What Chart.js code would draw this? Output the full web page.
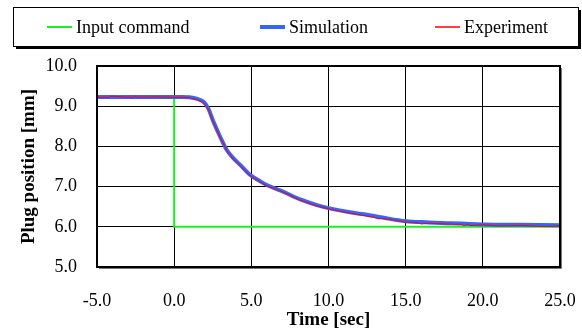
<!DOCTYPE html>
<html>
<head>
<meta charset="utf-8">
<script src="https://cdn.jsdelivr.net/npm/chart.js@4/dist/chart.umd.min.js"></script>
<style>
  html, body { margin: 0; padding: 0; background: #fff; }
  #wrap { width: 582px; height: 328px; position: relative; }
</style>
</head>
<body>
<div id="wrap"><canvas id="plug" width="582" height="328"></canvas></div>
<script>
// step command
const cmdTime = [-5, 0, 0, 25];
const cmdPos = [9.22, 9.22, 6.0, 6.0];

// model response
const simTime = [-5, -2.5, 0, 0.5, 1.0, 1.5, 1.9, 2.2, 2.55, 2.98, 3.41, 3.8, 4.28, 4.93, 5.5, 6.0, 7.09, 8.17, 9.25, 10.3, 11.4, 12.3, 13.5, 15.0, 16.5, 17.7, 20.0, 22.5, 25.0];
const simPos = [9.23, 9.23, 9.23, 9.23, 9.22, 9.18, 9.11, 8.95, 8.61, 8.24, 7.91, 7.72, 7.54, 7.29, 7.15, 7.04, 6.87, 6.68, 6.54, 6.44, 6.36, 6.31, 6.23, 6.14, 6.11, 6.09, 6.06, 6.05, 6.04];

// measured response
const expTime = [-5, -4.2, -4.1, -3.0, -2.6, -2.5, -2.4, -1.2, 0, 0.5, 1.0, 1.5, 1.9, 2.2, 2.55, 2.98, 3.41, 3.8, 4.28, 4.93, 5.5, 6.0, 7.09, 8.17, 9.25, 10.3, 11.4, 12.3, 13.0, 13.2, 13.5, 15.0, 15.8, 16.0, 16.5, 17.7, 18.6, 18.8, 19.0, 19.2, 20.0, 21.0, 22.5, 24.0, 25.0];
const expPos = [9.22, 9.22, 9.25, 9.22, 9.22, 9.25, 9.22, 9.23, 9.22, 9.22, 9.21, 9.16, 9.09, 8.93, 8.59, 8.22, 7.90, 7.70, 7.52, 7.27, 7.13, 7.02, 6.86, 6.66, 6.52, 6.42, 6.34, 6.28, 6.23, 6.20, 6.21, 6.12, 6.10, 6.07, 6.09, 6.07, 6.06, 6.03, 6.06, 6.03, 6.05, 6.02, 6.03, 6.01, 6.02];

const xTicks = [-5, 0, 5, 10, 15, 20, 25];

const pts = (xs, ys) => xs.map((x, i) => ({ x: x, y: ys[i] }));

const serif = '"Liberation Serif", "Times New Roman", serif';
const colCmd = '#1ef01e';
const colSim = '#3366ff';
const colExp = '#ff0000';

// legend box across the top, with a drop shadow
const topLegend = {
  id: 'topLegend',
  afterDraw(chart) {
    const ctx = chart.ctx;
    const bx = 13, by = 7, bw = 565, bh = 39;
    ctx.save();
    ctx.fillStyle = '#000';
    ctx.fillRect(bx + 3, by + 3, bw, bh);
    ctx.fillStyle = '#fff';
    ctx.fillRect(bx, by, bw, bh);
    ctx.strokeStyle = '#000';
    ctx.lineWidth = 1;
    ctx.strokeRect(bx + 0.5, by + 0.5, bw, bh);
    const ds = chart.data.datasets;
    const items = [
      { x: 47, text: ds[0].label, color: colCmd, w: 2 },
      { x: 260, text: ds[1].label, color: colSim, w: 4 },
      { x: 435, text: ds[2].label, color: colExp, w: 1.5 }
    ];
    const cy = 27;
    ctx.font = '18px ' + serif;
    ctx.textBaseline = 'middle';
    items.forEach(it => {
      ctx.fillStyle = it.color;
      ctx.fillRect(it.x, cy - it.w / 2, 25, it.w);
      ctx.fillStyle = '#000';
      ctx.fillText(it.text, it.x + 29, cy + 1);
    });
    ctx.restore();
  }
};

// thick frame around the plot area
const frame = {
  id: 'frame',
  afterDatasetsDraw(chart) {
    const { left, top, right, bottom } = chart.chartArea;
    const ctx = chart.ctx;
    ctx.save();
    ctx.strokeStyle = '#000';
    ctx.lineWidth = 2;
    ctx.strokeRect(left, top, right - left, bottom - top);
    ctx.strokeStyle = '#777';
    ctx.lineWidth = 1;
    ctx.beginPath();
    ctx.moveTo(left + 2, bottom + 1.5);
    ctx.lineTo(right + 1.5, bottom + 1.5);
    ctx.lineTo(right + 1.5, top + 2);
    ctx.stroke();
    ctx.restore();
  }
};

new Chart(document.getElementById('plug'), {
  type: 'line',
  data: {
    datasets: [
      {
        label: 'Input command',
        data: pts(cmdTime, cmdPos),
        borderColor: colCmd,
        borderWidth: 2,
        pointRadius: 0,
        tension: 0,
        order: 2
      },
      {
        label: 'Simulation',
        data: pts(simTime, simPos),
        borderColor: colSim,
        borderWidth: 4,
        pointRadius: 0,
        cubicInterpolationMode: 'monotone',
        order: 1
      },
      {
        label: 'Experiment',
        data: pts(expTime, expPos),
        borderColor: colExp,
        borderWidth: 1,
        pointRadius: 0,
        tension: 0,
        order: 0
      }
    ]
  },
  options: {
    responsive: false,
    animation: false,
    devicePixelRatio: 1,
    layout: { padding: { top: 66, right: 22, left: 10, bottom: 0 } },
    plugins: {
      legend: { display: false },
      tooltip: { enabled: false }
    },
    scales: {
      x: {
        type: 'linear',
        min: -5,
        max: 25,
        afterBuildTicks: s => { s.ticks = xTicks.map(v => ({ value: v })); },
        afterFit: s => { s.height = 61; s.paddingLeft = 0; s.paddingRight = 0; },
        grid: { color: '#000', lineWidth: 1, drawTicks: false },
        border: { display: false },
        ticks: {
          color: '#000',
          padding: 23,
          maxRotation: 0,
          font: { family: serif, size: 18 },
          callback: v => v.toFixed(1)
        },
        title: {
          display: true,
          text: 'Time [sec]',
          color: '#000',
          padding: { top: 0, bottom: -2 },
          font: { family: serif, size: 19, weight: 'bold', lineHeight: 1 }
        }
      },
      y: {
        min: 5,
        max: 10,
        afterFit: s => { s.width = 87; },
        grid: { color: '#000', lineWidth: 1, drawTicks: false },
        border: { display: false },
        ticks: {
          color: '#000',
          padding: 20,
          stepSize: 1,
          font: { family: serif, size: 18 },
          callback: v => v.toFixed(1)
        },
        title: {
          display: true,
          text: 'Plug position [mm]',
          color: '#000',
          padding: { top: 8, bottom: 0 },
          font: { family: serif, size: 19, weight: 'bold' }
        }
      }
    }
  },
  plugins: [topLegend, frame]
});
</script>
</body>
</html>
